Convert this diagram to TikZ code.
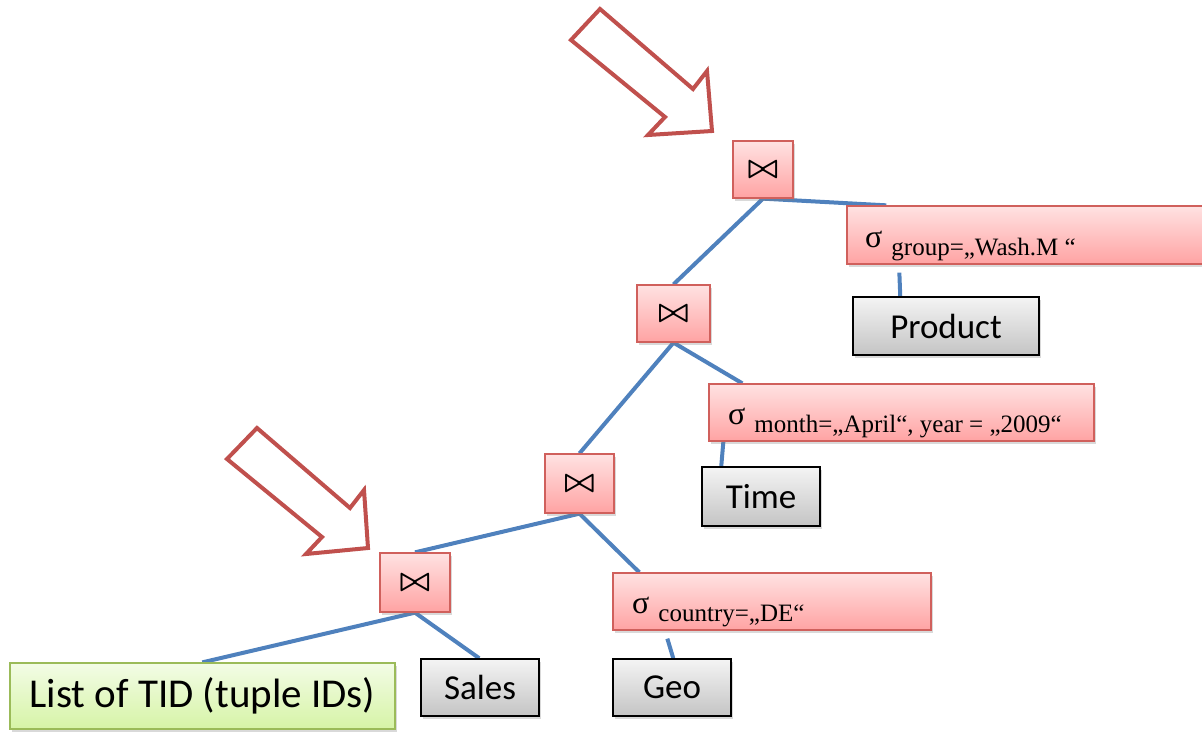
\documentclass[tikz,border=0pt]{standalone}
\usepackage{fontspec}
\usepackage{graphicx}
\setmainfont{Carlito}
\newfontfamily\serifgr{Liberation Serif}
\usetikzlibrary{shadows,backgrounds}
\definecolor{pinkborder}{HTML}{D0605C}
\definecolor{pinktop}{HTML}{FFE2E2}
\definecolor{pinkbot}{HTML}{FFA3A3}
\definecolor{greytop}{HTML}{F4F4F4}
\definecolor{greybot}{HTML}{C4C4C4}
\definecolor{greentop}{HTML}{F3FCE6}
\definecolor{greenbot}{HTML}{D6F4A6}
\definecolor{greenborder}{HTML}{9BBB59}
\definecolor{linkblue}{HTML}{4F81BD}
\definecolor{arrowred}{HTML}{C0504D}
\newcommand\selsigma[1]{{\serifgr\fontsize{32}{32}\selectfont σ}\hspace{9pt}\raisebox{-8pt}{\serifgr\fontsize{25}{25}\selectfont #1}}
\newcommand\joinsym{\scalebox{3.2}{\boldmath$\bowtie$}}
\tikzset{
  boxbase/.style={rectangle, inner sep=0pt, line width=1.3pt,
    drop shadow={shadow xshift=2pt, shadow yshift=-2.5pt, opacity=0.3}},
  pinkbox/.style={boxbase, draw=pinkborder, top color=pinktop, bottom color=pinkbot},
  greybox/.style={boxbase, draw=black, line width=1.5pt, top color=greytop, bottom color=greybot,
    font=\fontsize{35}{40}\selectfont},
  greenbox/.style={boxbase, draw=greenborder, top color=greentop, bottom color=greenbot,
    font=\fontsize{41}{46}\selectfont},
  seltext/.style={anchor=base west, inner sep=0pt},
  link/.style={draw=linkblue, line width=4pt},
  bigarrow/.style={draw=arrowred, line width=4pt, line join=miter}
}
\begin{document}
\begin{tikzpicture}[x=1pt,y=-1pt]
\useasboundingbox (0,0) rectangle (1202,731);
% arrows
\draw[bigarrow] (600,9) -- (571,40) -- (665,117) -- (648,135) -- (712,131) -- (707,71) -- (693,89) -- cycle;
\draw[bigarrow] (257,428) -- (227,459) -- (322,537) -- (306,554) -- (368,548) -- (364,490) -- (350,508) -- cycle;
% join nodes
\node[pinkbox, minimum width=60pt, minimum height=57pt] (j1) at (763,169.5) {\joinsym};
\node[pinkbox, minimum width=73pt, minimum height=57pt] (j2) at (673.5,313.5) {\joinsym};
\node[pinkbox, minimum width=69pt, minimum height=59pt] (j3) at (579.5,483.5) {\joinsym};
\node[pinkbox, minimum width=70pt, minimum height=59pt] (j4) at (415,582.5) {\joinsym};
% selection nodes
\node[pinkbox, minimum width=356pt, minimum height=58pt] (s1) at (1025,235) {};
\node[pinkbox, minimum width=385pt, minimum height=57pt] (s2) at (901.5,412.5) {};
\node[pinkbox, minimum width=318pt, minimum height=57pt] (s3) at (772,601.5) {};
\node[seltext] (t1) at (865,247) {\selsigma{group=„Wash.M “}};
\node[seltext] (t2) at (728,424) {\selsigma{month=„April“, year = „2009“}};
\node[seltext] (t3) at (632,613) {\selsigma{country=„DE“}};
% relations
\node[greybox, minimum width=186pt, minimum height=58pt] (product) at (946,326) {Product};
\node[greybox, minimum width=118pt, minimum height=59pt] (time) at (761,496.5) {Time};
\node[greybox, minimum width=118pt, minimum height=57pt] (sales) at (480,687.5) {Sales};
\node[greybox, minimum width=118pt, minimum height=57pt] (geo) at (672,687.5) {Geo};
\node[greenbox, minimum width=385pt, minimum height=66pt] (tid) at (202.5,696) {List of TID (tuple IDs)};
% connectors
\begin{scope}[on background layer]
\draw[link] (j1.south) -- ([xshift=40pt]s1.north west);
\draw[link] (j1.south) -- (j2.north);
\draw[link] ([xshift=53pt,yshift=-8pt]s1.south west) -- ([xshift=48pt]product.north west);
\draw[link] (j2.south) -- ([xshift=34pt]s2.north west);
\draw[link] (j2.south) -- (j3.north);
\draw[link] ([xshift=15pt]s2.south west) -- ([xshift=20pt]time.north west);
\draw[link] (j3.south) -- (j4.north);
\draw[link] (j3.south) -- ([xshift=27pt]s3.north west);
\draw[link] ([xshift=55pt,yshift=-8pt]s3.south west) -- ([xshift=61pt]geo.north west);
\draw[link] (j4.south) -- ([xshift=59pt]sales.north west);
\draw[link] (j4.south) -- ([xshift=193pt]tid.north west);
\end{scope}
\end{tikzpicture}
\end{document}
